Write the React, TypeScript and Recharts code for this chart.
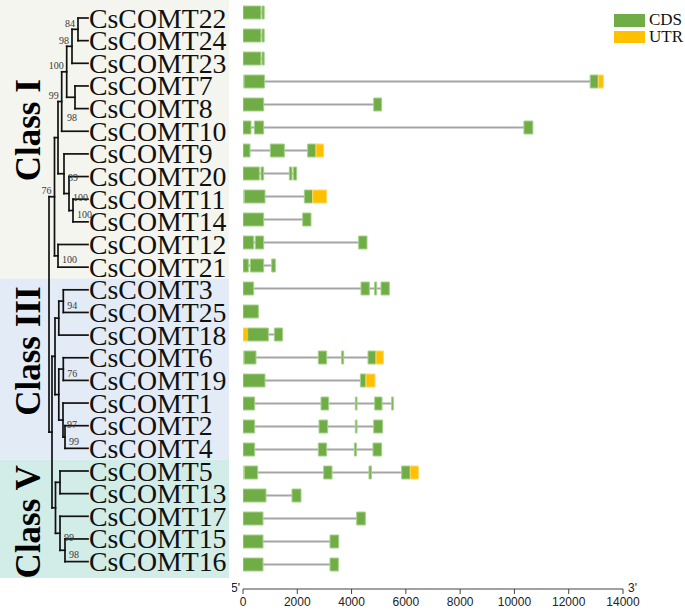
import React from 'react';
import {
  ComposedChart,
  Bar,
  XAxis,
  YAxis,
  Cell,
  ReferenceArea,
  ReferenceLine,
  Scatter,
  Legend,
} from 'recharts';

// ---------------- DATA ----------------
const genes = [
  'CsCOMT22', 'CsCOMT24', 'CsCOMT23', 'CsCOMT7', 'CsCOMT8', 'CsCOMT10',
  'CsCOMT9', 'CsCOMT20', 'CsCOMT11', 'CsCOMT14', 'CsCOMT12', 'CsCOMT21',
  'CsCOMT3', 'CsCOMT25', 'CsCOMT18', 'CsCOMT6', 'CsCOMT19', 'CsCOMT1',
  'CsCOMT2', 'CsCOMT4', 'CsCOMT5', 'CsCOMT13', 'CsCOMT17', 'CsCOMT15',
  'CsCOMT16',
];

// gene structure segments per gene: [start bp, end bp, type] (C = CDS, U = UTR)
const structures: [number, number, string][][] = [
  [[0, 660, 'C'], [700, 780, 'C']],
  [[0, 660, 'C'], [700, 780, 'C']],
  [[0, 660, 'C'], [700, 780, 'C']],
  [[0, 40, 'U'], [40, 790, 'C'], [12790, 13090, 'C'], [13090, 13275, 'U']],
  [[0, 762, 'C'], [4814, 5108, 'C']],
  [[0, 295, 'C'], [418, 762, 'C'], [10350, 10680, 'C']],
  [[0, 258, 'C'], [1007, 1523, 'C'], [2382, 2690, 'C'], [2690, 2972, 'U']],
  [[0, 602, 'C'], [663, 762, 'C'], [1707, 1805, 'C'], [1854, 1977, 'C']],
  [[0, 50, 'U'], [50, 810, 'C'], [2260, 2567, 'C'], [2567, 3082, 'U']],
  [[0, 762, 'C'], [2198, 2505, 'C']],
  [[0, 393, 'C'], [454, 762, 'C'], [4261, 4568, 'C']],
  [[0, 196, 'C'], [270, 762, 'C'], [1056, 1191, 'C']],
  [[0, 393, 'C'], [4347, 4654, 'C'], [4851, 4924, 'C'], [5084, 5391, 'C']],
  [[0, 565, 'C']],
  [[0, 172, 'U'], [172, 933, 'C'], [1154, 1461, 'C']],
  [[0, 40, 'U'], [40, 479, 'C'], [2775, 3082, 'C'], [3635, 3709, 'C'], [4605, 4900, 'C'], [4900, 5170, 'U']],
  [[0, 810, 'C'], [4323, 4531, 'C'], [4531, 4863, 'U']],
  [[0, 430, 'C'], [2874, 3156, 'C'], [4138, 4200, 'C'], [4851, 5121, 'C'], [5477, 5538, 'C']],
  [[0, 430, 'C'], [2800, 3119, 'C'], [4138, 4200, 'C'], [4814, 5145, 'C']],
  [[0, 430, 'C'], [2775, 3082, 'C'], [4102, 4175, 'C'], [4789, 5108, 'C']],
  [[0, 50, 'U'], [50, 540, 'C'], [2972, 3279, 'C'], [4642, 4728, 'C'], [5845, 6165, 'C'], [6165, 6459, 'U']],
  [[0, 847, 'C'], [1805, 2137, 'C']],
  [[0, 737, 'C'], [4188, 4507, 'C']],
  [[0, 737, 'C'], [3205, 3524, 'C']],
  [[0, 737, 'C'], [3205, 3512, 'C']],
];

const classNames = ['Class I', 'Class III', 'Class V'];
const classRows = [[0, 11], [12, 19], [20, 24]];

// tree internal nodes: [id, depth, children]
const treeNodes: [string, number, string[]][] = [
  ['A', 78, ['CsCOMT22', 'CsCOMT24']],
  ['B', 72, ['A', 'CsCOMT23']],
  ['C', 75, ['CsCOMT7', 'CsCOMT8']],
  ['D', 66.7, ['B', 'C']],
  ['E', 61.7, ['D', 'CsCOMT10']],
  ['I', 73, ['CsCOMT11', 'CsCOMT14']],
  ['H', 69, ['CsCOMT20', 'I']],
  ['G', 64, ['CsCOMT9', 'H']],
  ['F', 58, ['E', 'G']],
  ['J', 58, ['CsCOMT12', 'CsCOMT21']],
  ['K', 54.5, ['F', 'J']],
  ['P', 63.3, ['CsCOMT3', 'CsCOMT25']],
  ['N', 58.8, ['P', 'CsCOMT18']],
  ['Q', 63.3, ['CsCOMT6', 'CsCOMT19']],
  ['S', 65, ['CsCOMT2', 'CsCOMT4']],
  ['R', 63, ['CsCOMT1', 'S']],
  ['O', 58.8, ['Q', 'R']],
  ['M', 55, ['N', 'O']],
  ['U', 60, ['CsCOMT5', 'CsCOMT13']],
  ['W', 65, ['CsCOMT15', 'CsCOMT16']],
  ['V', 60, ['CsCOMT17', 'W']],
  ['X', 55.5, ['U', 'V']],
  ['Y', 52, ['M', 'X']],
  ['ROOT', 49, ['K', 'Y']],
];

const bootstrap: [string, number][] = [
  ['A', 84], ['B', 98], ['D', 100], ['C', 98], ['E', 99], ['G', 89], ['H', 100],
  ['I', 100], ['J', 100], ['K', 76], ['P', 94], ['Q', 76], ['R', 97], ['S', 99],
  ['V', 99], ['W', 98],
];

const axisTicks = [0, 2000, 4000, 6000, 8000, 10000, 12000, 14000];
const legendItems = ['CDS', 'UTR'];
const legendTypes = ['C', 'U'];

// ---------------- STYLE ----------------
const SERIF = '"Liberation Serif", "Times New Roman", serif';
const SANS = '"Liberation Sans", Arial, sans-serif';
const FILL: Record<string, string> = { C: '#70ad47', U: '#ffc000' };
const EDGE: Record<string, string> = { C: '#a5d28a', U: '#ffd966' };
const classFills = ['#f4f5ee', '#e3ecf6', '#d2ece8'];
const classLabelDy = [-9, -18, 3];
const labelSide: Record<string, string> = {
  A: 'L', B: 'L', D: 'L', E: 'L', K: 'L', C: 'B',
  G: 'R', H: 'R', I: 'R', J: 'R', P: 'R', Q: 'R', R: 'R', S: 'R', V: 'R', W: 'R',
};

const TIP_X = 88;
const ROW0_PX = 18;
const ROW_PX = 22.65;
const TREE_W = 240;
const TREE_H = 578;
const Y_MIN = -ROW0_PX / ROW_PX;
const Y_MAX = (TREE_H - ROW0_PX) / ROW_PX;

// ---------------- TREE LAYOUT ----------------
const nodeMap = new Map(treeNodes.map((n) => [n[0], n]));
const pos: Record<string, { x: number; y: number }> = {};
genes.forEach((g, i) => {
  pos[g] = { x: TIP_X, y: i };
});
function place(id: string): { x: number; y: number } {
  if (pos[id]) return pos[id];
  const n = nodeMap.get(id)!;
  const cs = n[2].map(place);
  pos[id] = { x: n[1], y: (cs[0].y + cs[cs.length - 1].y) / 2 };
  return pos[id];
}
treeNodes.forEach((n) => place(n[0]));

const branches: { x: number; y: number }[][] = [];
treeNodes.forEach(([id, x, ch]) => {
  const cs = ch.map((c) => pos[c]);
  branches.push([{ x, y: cs[0].y }, { x, y: cs[cs.length - 1].y }]);
  cs.forEach((c) => branches.push([{ x, y: c.y }, { x: c.x, y: c.y }]));
});

const tipData = genes.map((g, i) => ({ x: TIP_X, y: i, name: g }));
const bootData = bootstrap.map(([id, v]) => ({ x: pos[id].x, y: pos[id].y, v, id }));

// ---------------- GENE ROWS ----------------
const MAX_SEG = Math.max(...structures.map((s) => s.length));
const segKeys = Array.from({ length: MAX_SEG }, (_, k) => 's' + k);
const geneRows = genes.map((name, i) => {
  const segs = structures[i];
  const r: any = {
    name,
    span: [Math.min(...segs.map((s) => s[0])), Math.max(...segs.map((s) => s[1]))],
  };
  segs.forEach((s, k) => {
    r['s' + k] = [s[0], s[1]];
    r['t' + k] = s[2];
  });
  return r;
});

const IntronShape = (p: any) => {
  if (!p || p.width == null) return null;
  const y = p.y + p.height / 2;
  return <line x1={p.x} x2={p.x + p.width} y1={y} y2={y} stroke="#a5a5a5" strokeWidth={2} />;
};

const GeneName = (p: any) => (
  <text
    x={p.cx + 1}
    y={p.cy}
    dominantBaseline="central"
    fontFamily={SERIF}
    fontSize={27.8}
    fill="#111"
  >
    {p.payload.name}
  </text>
);

const BootLabel = (p: any) => {
  const side = labelSide[p.payload.id] || 'L';
  let x = p.cx - 3;
  let y = p.cy - 6;
  let anchor: any = 'end';
  if (side === 'R') {
    x = p.cx + 4;
    y = p.cy + 4;
    anchor = 'start';
  } else if (side === 'B') {
    x = p.cx - 8;
    y = p.cy + 20;
    anchor = 'start';
  }
  return (
    <text x={x} y={y} textAnchor={anchor} dominantBaseline="central" fontFamily={SERIF} fontSize={10} fill="#3a3a3a">
      {p.payload.v}
    </text>
  );
};

const classLabel = (i: number) => (lp: any) => {
  const vb = lp.viewBox || {};
  const cx = (vb.x || 0) + 29;
  const cy = (vb.y || 0) + (vb.height || 0) / 2 + classLabelDy[i];
  return (
    <text
      x={cx}
      y={cy}
      transform={`rotate(-90, ${cx}, ${cy})`}
      textAnchor="middle"
      dominantBaseline="central"
      fontFamily={SERIF}
      fontWeight="bold"
      fontSize={35}
      fill="#000"
    >
      {classNames[i]}
    </text>
  );
};

const AxisEnds = (lp: any) => {
  const vb = lp.viewBox || {};
  return (
    <g>
      <text x={vb.x - 3} y={vb.y + 2.5} textAnchor="end" fontFamily={SANS} fontSize={12} fill="#222">5'</text>
      <text x={vb.x + vb.width + 5} y={vb.y + 2.5} textAnchor="start" fontFamily={SANS} fontSize={12} fill="#222">3'</text>
    </g>
  );
};

const LegendContent = () => (
  <div style={{ fontFamily: SERIF, fontSize: 17, color: '#111' }}>
    {legendItems.map((t, i) => (
      <div key={t} style={{ display: 'flex', alignItems: 'center', height: 16.7 }}>
        <span style={{ display: 'inline-block', width: 31, height: 12.5, background: FILL[legendTypes[i]], marginRight: 4 }} />
        <span style={{ lineHeight: '16.7px' }}>{t}</span>
      </div>
    ))}
  </div>
);

export default function App() {
  return (
    <div style={{ position: 'absolute', left: 0, top: 0, width: 685, height: 611, background: '#fff' }}>
      <div style={{ position: 'absolute', left: 0, top: 0 }}>
        <ComposedChart width={TREE_W} height={TREE_H} margin={{ top: 0, right: 0, bottom: 0, left: 0 }}>
          <XAxis type="number" dataKey="x" domain={[0, TREE_W]} hide allowDataOverflow />
          <YAxis type="number" dataKey="y" domain={[Y_MIN, Y_MAX]} reversed hide allowDataOverflow />
          {classRows.map((r, i) => (
            <ReferenceArea
              key={classNames[i]}
              x1={0}
              x2={229}
              y1={i === 0 ? Y_MIN : r[0] - 0.5}
              y2={i === classRows.length - 1 ? Y_MAX : r[1] + 0.5}
              fill={classFills[i]}
              fillOpacity={1}
              stroke="none"
              ifOverflow="visible"
              label={classLabel(i)}
            />
          ))}
          {branches.map((seg, i) => (
            <ReferenceLine
              key={'b' + i}
              segment={seg}
              stroke="#111"
              strokeWidth={1.7}
              strokeLinecap="square"
              ifOverflow="visible"
            />
          ))}
          <Scatter data={tipData} shape={GeneName} isAnimationActive={false} />
          <Scatter data={bootData} shape={BootLabel} isAnimationActive={false} />
        </ComposedChart>
      </div>
      <div style={{ position: 'absolute', left: 232, top: 0 }}>
        <ComposedChart
          layout="vertical"
          width={453}
          height={611}
          data={geneRows}
          margin={{ top: 1, right: 62, bottom: 0, left: 11 }}
          barGap={-13}
          barCategoryGap={0}
        >
          <XAxis
            type="number"
            domain={[0, 14000]}
            ticks={axisTicks}
            interval={0}
            height={22}
            tickSize={5}
            tickMargin={3}
            axisLine={{ stroke: '#444', strokeWidth: 1.2 }}
            tickLine={{ stroke: '#444' }}
            tick={{ fontFamily: SANS, fontSize: 12, fill: '#222' }}
            label={{ content: AxisEnds }}
            allowDataOverflow
          />
          <YAxis type="category" dataKey="name" hide padding={{ top: 0, bottom: 13 }} />
          <Bar dataKey="span" barSize={13} shape={IntronShape} isAnimationActive={false} />
          {segKeys.map((k, idx) => (
            <Bar key={k} dataKey={k} barSize={13} isAnimationActive={false} strokeWidth={1}>
              {geneRows.map((r, i) => {
                const t = r['t' + idx] || 'C';
                return <Cell key={i} fill={FILL[t]} stroke={EDGE[t]} />;
              })}
            </Bar>
          ))}
          <Legend
            layout="horizontal"
            verticalAlign="middle"
            align="center"
            content={LegendContent}
            wrapperStyle={{ position: 'absolute', left: 382, top: 12, width: 90 }}
          />
        </ComposedChart>
      </div>
    </div>
  );
}
